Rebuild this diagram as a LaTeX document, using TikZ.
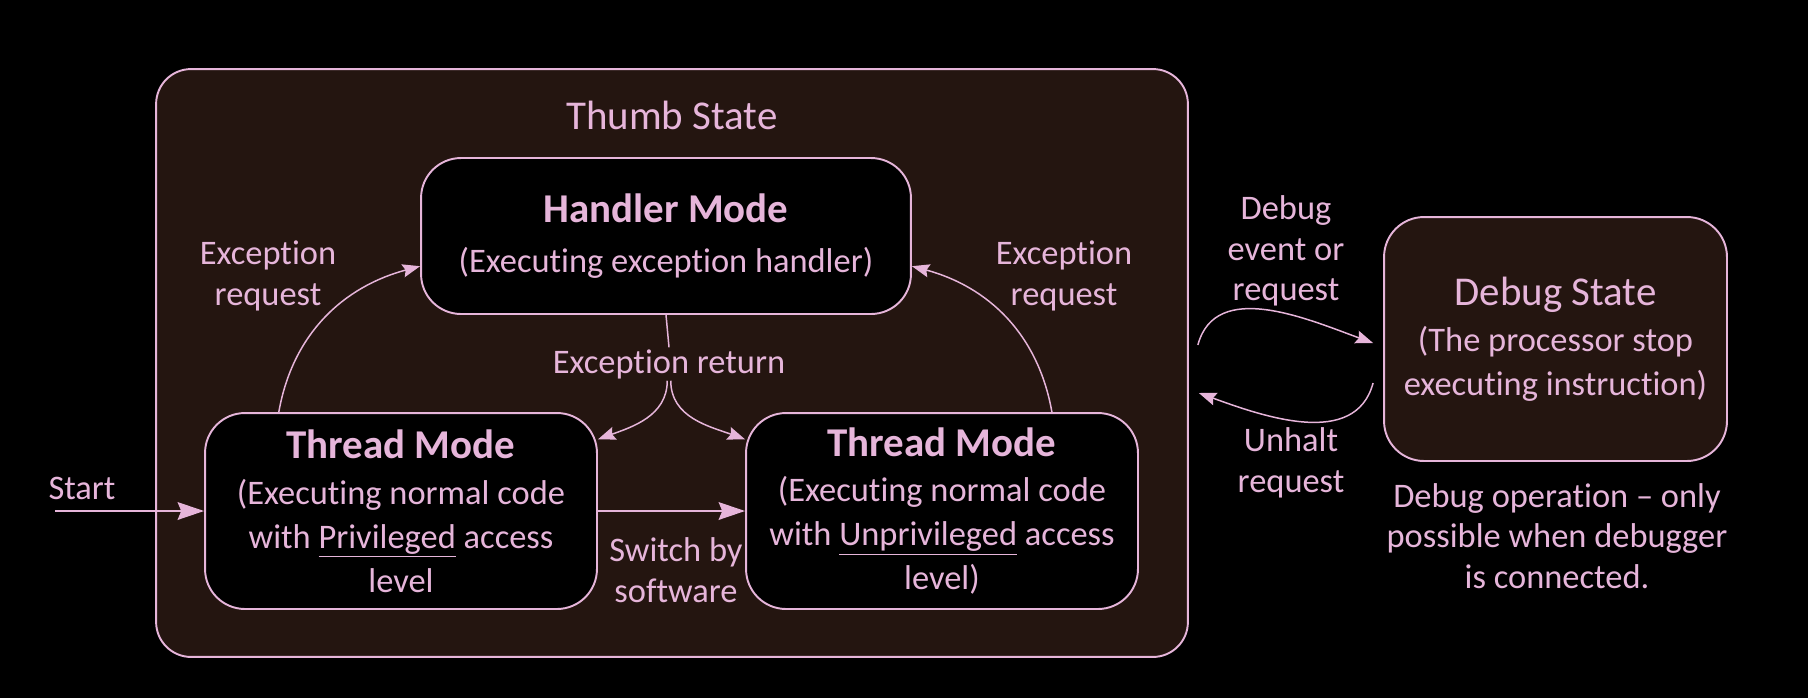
\documentclass[tikz,border=0pt]{standalone}
\usepackage{fontspec}
\setmainfont{Carlito}[Ligatures={TeX,NoCommon}]
\usepackage{tikz}
\usetikzlibrary{arrows.meta,positioning,calc}
\definecolor{pinkline}{HTML}{E6B5DA}
\definecolor{thumbbg}{HTML}{241510}
\tikzset{>={Stealth[length=10pt,width=7.5pt,inset=1.5pt]}}
\tikzset{
  mode/.style={draw=pinkline,fill=black,line width=1.1pt,rounded corners=0.8cm,align=center,text=pinkline,inner sep=0pt,font=\fontsize{19.6}{25}\selectfont},
  lbl/.style={align=center,text=pinkline,inner sep=1pt,font=\fontsize{19.6}{23}\selectfont},
}
\newcommand{\modehead}[1]{{\fontsize{23.3}{25}\selectfont\bfseries #1}}

\begin{document}
\begin{tikzpicture}[x=0.02cm,y=0.02cm]
\fill[black] (0,0) rectangle (1808,-698);
\useasboundingbox (0,0) rectangle (1808,-698);
\node[mode,fill=thumbbg,rounded corners=0.7cm,minimum width=20.64cm,minimum height=11.76cm] (thumb) at (672,-363) {};
\node[lbl,font=\fontsize{23.3}{25}\selectfont] (thumbname) at (672,-115) {Thumb State};
\node[mode,minimum width=9.8cm,minimum height=3.12cm] (hand) at (666,-236) {\modehead{Handler Mode}\\[3.5pt](Executing exception handler)};
\node[mode,minimum width=7.84cm,minimum height=3.92cm] (thl) at (401,-511) {\modehead{Thread Mode}\\[1pt](Executing normal code\\with \underline{Privileged} access\\level};
\node[mode,minimum width=7.84cm,minimum height=3.92cm] (thr) at (942,-511) {\modehead{Thread Mode}\\[1pt](Executing normal code\\with \underline{Unprivileged} access\\level)};
\node[mode,fill=thumbbg,minimum width=6.86cm,minimum height=4.88cm] (dbg) at (1555.5,-339) {{\fontsize{23.3}{25}\selectfont Debug State}\\[1.5pt](The processor stop\\executing instruction)};
\node[lbl] (excret) at (669,-364) {Exception return};
\node[lbl] (excl) at (268,-276) {Exception\\request};
\node[lbl] (excr) at (1064,-276) {Exception\\request};
\node[lbl] (startlbl) at (82,-488) {Start};
\coordinate (startpt) at (55,-511);
\node[lbl] (swlbl) at (676,-570) {Switch by\\software};
\node[lbl] (dbgev) at (1286,-251) {Debug\\event or\\request};
\node[lbl] (unhalt) at (1291,-463) {Unhalt\\request};
\node[lbl] (dbgnote) at (1557,-536) {Debug operation – only\\possible when debugger\\is connected.};
\begin{scope}[color=pinkline,line width=0.85pt]
\draw (hand.south) -- (excret.north);
\draw[->] ([xshift=-1pt]excret.south) to[out=-90,in=20] (thl.20);
\draw[->] ([xshift=1pt]excret.south) to[out=-90,in=160] (thr.160);
\draw[->] (thl.141) to[out=80,in=195] (hand.187);
\draw[->] (thr.42) to[out=100,in=-15] (hand.353);
\draw[->] ([shift={(9,18)}]thumb.east) to[out=75,in=160] ([shift={(-10,-4)}]dbg.west);
\draw[->] ([shift={(-10,-44)}]dbg.west) to[out=-105,in=-20] ([shift={(10,-30)}]thumb.east);
\end{scope}
\begin{scope}[color=pinkline,line width=1.5pt,>={Stealth[length=15pt,width=10pt,inset=2pt]}]
\draw[->] (startpt) -- (thl.west);
\draw[->] (thl.east) -- (thr.west);
\end{scope}
%\draw[help lines] (0,0) grid (1808,-698);
\end{tikzpicture}
\end{document}
